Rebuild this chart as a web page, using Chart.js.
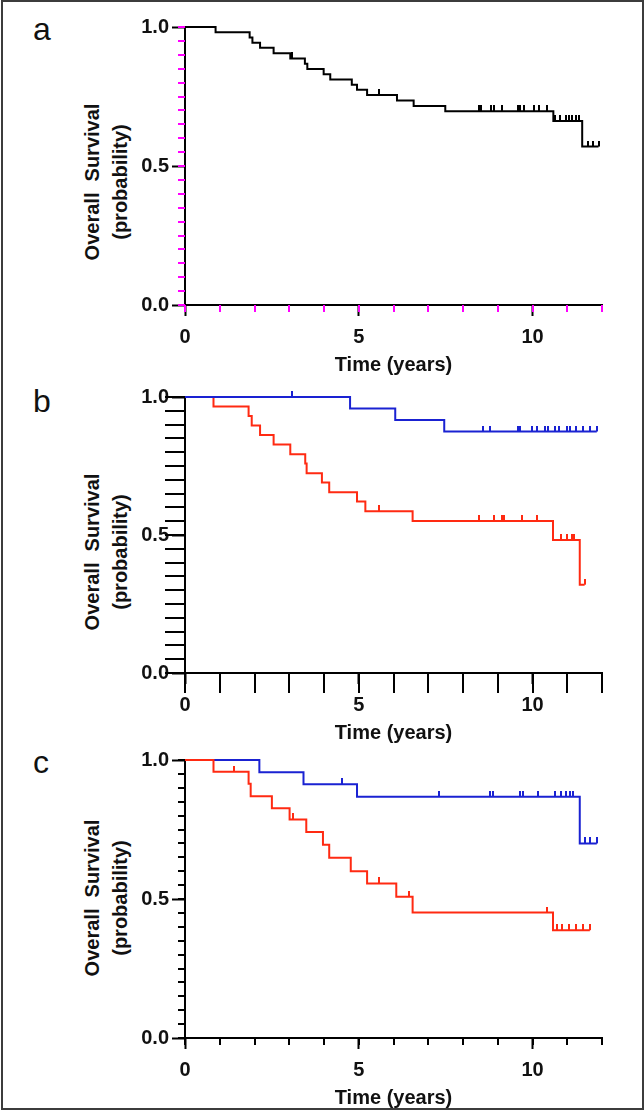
<!DOCTYPE html>
<html>
<head>
<meta charset="utf-8">
<script src="https://cdn.jsdelivr.net/npm/chart.js@4.4.1/dist/chart.umd.min.js"></script>
<style>
  html, body { margin: 0; padding: 0; background: #fff; }
  body { width: 644px; height: 1112px; position: relative; overflow: hidden; font-family: 'Liberation Sans', Arial, sans-serif; }
  .frame { position: absolute; left: 1px; top: 0; width: 639px; height: 1106px; border: 2px solid #3c3c3c; }
  canvas { position: absolute; left: 0; }
  .letter { position: absolute; left: 33px; font-size: 32px; line-height: 32px; color: #111; }
  .ytitle { position: absolute; left: 106px; transform: translate(-50%, -50%) rotate(-90deg);
            font-weight: bold; font-size: 20px; line-height: 28px; text-align: center; white-space: pre; color: #111; }
</style>
</head>
<body>
<div class="frame"></div>

<div class="letter" style="top:13px">a</div>
<div class="letter" style="top:385px">b</div>
<div class="letter" style="top:746px">c</div>

<div class="ytitle" style="top:182px">Overall  Survival
(probability)</div>
<div class="ytitle" style="top:552px">Overall  Survival
(probability)</div>
<div class="ytitle" style="top:898px">Overall  Survival
(probability)</div>

<canvas id="chartA" width="644" height="377" style="top:0px"></canvas>
<canvas id="chartB" width="644" height="365" style="top:380px"></canvas>
<canvas id="chartC" width="644" height="365" style="top:745px"></canvas>

<script>
// panel a - all patients
const aDeathTimes = [0.88, 1.86, 1.94, 2.16, 2.55, 3.03, 3.45, 3.52, 3.99, 4.18, 4.80, 4.95, 5.24, 6.10, 6.58, 7.49, 10.60, 11.43];
const aSurvival = [0.981, 0.962, 0.943, 0.925, 0.906, 0.887, 0.868, 0.849, 0.830, 0.811, 0.792, 0.774, 0.755, 0.736, 0.716, 0.697, 0.662, 0.570];
const aCensored = [3.07, 5.59, 8.47, 8.53, 8.81, 8.89, 9.13, 9.59, 9.65, 9.75, 10.04, 10.18, 10.42,
                   10.66, 10.80, 10.95, 11.04, 11.15, 11.24, 11.33, 11.60, 11.75, 11.90];

// panel b
const bBlueTimes = [4.75, 6.05, 7.46];
const bBlueSurvival = [0.958, 0.917, 0.875];
const bBlueCensored = [3.07, 8.57, 8.79, 9.58, 9.65, 9.99, 10.14, 10.37, 10.45, 10.66, 10.76,
                       11.00, 11.08, 11.24, 11.45, 11.65, 11.85];
const bRedTimes = [0.82, 1.83, 1.92, 2.16, 2.55, 3.03, 3.46, 3.50, 3.94, 4.15, 4.95, 5.19, 6.55, 10.59, 11.36];
const bRedSurvival = [0.966, 0.931, 0.897, 0.862, 0.828, 0.793, 0.759, 0.724, 0.690, 0.655, 0.621, 0.586, 0.551, 0.482, 0.320];
const bRedCensored = [5.57, 8.45, 8.89, 9.13, 9.17, 9.70, 10.13, 10.81, 11.00, 11.14, 11.19, 11.50];

// panel c
const cBlueTimes = [2.14, 3.41, 4.95, 11.36];
const cBlueSurvival = [0.956, 0.913, 0.868, 0.700];
const cBlueCensored = [4.53, 7.32, 8.79, 8.86, 9.65, 9.72, 10.16, 10.66, 10.81, 10.95, 11.08, 11.17, 11.50, 11.65, 11.85];
const cRedTimes = [0.82, 1.83, 1.89, 2.50, 3.01, 3.49, 3.97, 4.15, 4.77, 5.24, 6.08, 6.55, 10.59];
const cRedSurvival = [0.958, 0.915, 0.870, 0.826, 0.786, 0.741, 0.695, 0.648, 0.600, 0.556, 0.508, 0.451, 0.388];
const cRedCensored = [1.42, 3.10, 5.57, 6.44, 10.42, 10.71, 10.85, 11.05, 11.24, 11.45, 11.65];

const black = '#000000';
const red = '#ff2a12';
const blue = '#1a22d2';

const tickFont = { family: "'Liberation Sans', Arial, sans-serif", size: 20, weight: 'bold' };
const titleFont = { family: "'Liberation Sans', Arial, sans-serif", size: 20, weight: 'bold' };

// small vertical tick that sits on top of the curve
function censorMark(color) {
  const c = document.createElement('canvas');
  c.width = 2;
  c.height = 12;
  const g = c.getContext('2d');
  g.fillStyle = color;
  g.fillRect(0, 0, 2, 6);
  return c;
}

function levelAt(times, surv, t) {
  let s = 1;
  times.forEach((d, i) => { if (d <= t) s = surv[i]; });
  return s;
}

function curve(times, surv, censored, color) {
  const pts = [{ x: 0, y: 1 }];
  times.forEach((t, i) => pts.push({ x: t, y: surv[i] }));
  const end = Math.max(times[times.length - 1], censored[censored.length - 1]);
  pts.push({ x: end, y: surv[surv.length - 1] });
  return [
    {
      data: censored.map(t => ({ x: t, y: levelAt(times, surv, t) })),
      showLine: false,
      pointStyle: censorMark(color),
      pointRadius: 3,
      clip: false
    },
    {
      data: pts,
      showLine: true,
      stepped: true,
      borderColor: color,
      borderWidth: 2,
      pointRadius: 0,
      clip: 4
    }
  ];
}

// short unlabelled ticks: every year on x, every 0.05 on y
function minorTicks(color, len) {
  return {
    id: 'minorTicks',
    afterDraw(chart) {
      const ctx = chart.ctx;
      const x = chart.scales.x;
      const y = chart.scales.y;
      ctx.save();
      ctx.fillStyle = color;
      for (let v = 0; v <= 12; v++) {
        const px = Math.round(x.getPixelForValue(v));
        ctx.fillRect(px - 1, x.top, 2, len);
      }
      for (let i = 0; i <= 20; i++) {
        const py = Math.round(y.getPixelForValue(i / 20));
        ctx.fillRect(y.right - len, py - 1, len, 2);
      }
      ctx.restore();
    }
  };
}

const tickLine = { drawOnChartArea: false, tickWidth: 2, tickColor: '#000' };

function options(padTop) {
  return {
    responsive: false,
    animation: false,
    events: [],
    layout: { padding: { top: padTop, right: 42, left: 0, bottom: 0 } },
    plugins: { legend: { display: false }, tooltip: { enabled: false } },
    scales: {
      x: {
        type: 'linear',
        min: 0,
        max: 12,
        afterFit: s => { s.height = 72; },
        border: { color: '#000', width: 2 },
        grid: { ...tickLine, tickLength: 11 },
        ticks: { stepSize: 5, includeBounds: false, maxRotation: 0, color: '#111', font: tickFont, padding: 9 },
        title: { display: true, text: 'Time (years)', color: '#111', font: titleFont, padding: { top: 0, bottom: 0 } }
      },
      y: {
        type: 'linear',
        min: 0,
        max: 1,
        afterFit: s => { s.width = 185; },
        border: { color: '#000', width: 2 },
        grid: { ...tickLine, tickLength: 13 },
        ticks: { stepSize: 0.5, color: '#111', font: tickFont, padding: 3, callback: v => v.toFixed(1) }
      }
    }
  };
}

new Chart(document.getElementById('chartA'), {
  type: 'scatter',
  data: { datasets: curve(aDeathTimes, aSurvival, aCensored, black) },
  options: options(27),
  plugins: [minorTicks('#f0f', 7)]
});

new Chart(document.getElementById('chartB'), {
  type: 'scatter',
  data: {
    datasets: [
      ...curve(bBlueTimes, bBlueSurvival, bBlueCensored, blue),
      ...curve(bRedTimes, bRedSurvival, bRedCensored, red)
    ]
  },
  options: options(17),
  plugins: [minorTicks('#000', 20)]
});

new Chart(document.getElementById('chartC'), {
  type: 'scatter',
  data: {
    datasets: [
      ...curve(cRedTimes, cRedSurvival, cRedCensored, red),
      ...curve(cBlueTimes, cBlueSurvival, cBlueCensored, blue)
    ]
  },
  options: options(15),
  plugins: [minorTicks('#000', 7)]
});
</script>
</body>
</html>
